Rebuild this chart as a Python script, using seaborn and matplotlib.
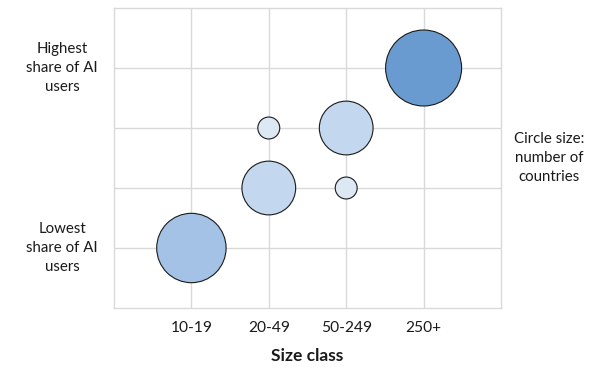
import matplotlib
matplotlib.use("Agg")
import matplotlib.pyplot as plt
import matplotlib.transforms as mtransforms
import seaborn as sns
import pandas as pd

# Data
size_class = ["10-19", "20-49", "20-49", "50-249", "50-249", "250+"]
share_level = [1, 2, 3, 3, 2, 4]          # 1 = lowest share, 4 = highest share
n_countries = [10, 6, 1, 6, 1, 12]
fill = ["#A4C2E5", "#C3D7EE", "#DDE8F5", "#C3D7EE", "#DDE8F5", "#6A9BD0"]
categories = ["10-19", "20-49", "50-249", "250+"]

df = pd.DataFrame({
    "cls": size_class,
    "x": [categories.index(c) + 1 for c in size_class],
    "y": share_level,
    "n": n_countries,
    "id": [str(i) for i in range(len(size_class))],
})

sns.set_theme(style="white")
plt.rcParams["font.family"] = ["Lato", "DejaVu Sans"]

fig = plt.figure(figsize=(6, 3.69), dpi=100)
ax = fig.add_axes([0.19, 0.1653, 0.645, 0.813])

max_px_diam = 76
s_max = (max_px_diam * 0.72) ** 2
sns.scatterplot(data=df, x="x", y="y", size="n", sizes=(0, s_max), size_norm=(0, 12),
                hue="id", palette=fill, edgecolor="#1a1a1a", linewidth=0.8,
                legend=False, ax=ax, zorder=3, alpha=1)

ax.set_xlim(0, 5)
ax.set_ylim(0, 5)
ax.set_xticks(range(1, 5))
ax.set_xticklabels(categories, fontsize=11.2, color="#1a1a1a")
ax.set_yticks(range(1, 5))
ax.set_yticklabels([])
ax.tick_params(axis="both", length=0)
ax.tick_params(axis="x", pad=9)
ax.grid(True, color="#D9D9D9", linewidth=1)
ax.set_axisbelow(True)
for sp in ax.spines.values():
    sp.set_color("#D9D9D9")
    sp.set_linewidth(1)

ax.set_xlabel("Size class", fontsize=12.5, fontweight="bold", color="#1a1a1a", labelpad=10)
ax.set_ylabel("")

tr = mtransforms.blended_transform_factory(fig.transFigure, ax.transData)
ax.text(62 / 600, 4, "Highest\nshare of AI\nusers", transform=tr, ha="center", va="center",
        fontsize=10.8, color="#1a1a1a", linespacing=1.45)
ax.text(62 / 600, 1, "Lowest\nshare of AI\nusers", transform=tr, ha="center", va="center",
        fontsize=10.8, color="#1a1a1a", linespacing=1.45)
fig.text(549 / 600, 1 - 158 / 369, "Circle size:\nnumber of\ncountries", ha="center", va="center",
         fontsize=10.8, color="#1a1a1a", linespacing=1.45)

fig.savefig("out.png", dpi=100)
